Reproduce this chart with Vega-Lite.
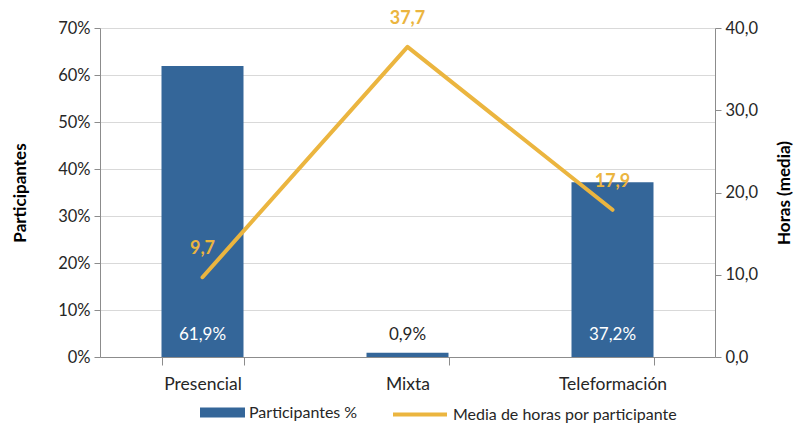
{
  "$schema": "https://vega.github.io/schema/vega-lite/v6.json",
  "autosize": "none",
  "width": 615,
  "height": 329,
  "padding": {"left": 100, "top": 28, "right": 85, "bottom": 66},
  "background": "white",
  "config": {
    "view": {"stroke": null},
    "font": "Lato",
    "axis": {"labelFont": "Lato", "titleFont": "Lato", "labelFontSize": 16.5, "titleFontSize": 17, "labelColor": "#262626", "titleColor": "#000000", "domainColor": "#8c8c8c", "tickColor": "#8c8c8c", "gridColor": "#d9d9d9", "tickSize": 6}
  },
  "data": {"values": [
    {"mod": "Presencial", "pct": 0.619, "pctLabel": "61,9%", "hours": 9.7, "hoursLabel": "9,7"},
    {"mod": "Mixta", "pct": 0.009, "pctLabel": "0,9%", "hours": 37.7, "hoursLabel": "37,7"},
    {"mod": "Teleformación", "pct": 0.372, "pctLabel": "37,2%", "hours": 17.9, "hoursLabel": "17,9"}
  ]},
  "encoding": {
    "x": {"field": "mod", "type": "nominal", "sort": null,
      "scale": {"paddingInner": 0.6, "paddingOuter": 0.3},
      "axis": {"title": null, "labelAngle": 0, "labelPadding": 10, "tickBand": "extent", "labelFontSize": 17.5, "tickSize": 8}}
  },
  "layer": [
    {
      "encoding": {
        "y": {"type": "quantitative", "scale": {"domain": [0, 0.7]},
          "axis": {"title": "Participantes", "titleFontWeight": "bold", "titlePadding": 28, "values": [0, 0.1, 0.2, 0.3, 0.4, 0.5, 0.6, 0.7], "labelExpr": "format(datum.value, '.0%')", "grid": true, "labelPadding": 4}}
      },
      "layer": [
        {"mark": {"type": "bar", "color": "#346699"},
         "encoding": {"y": {"field": "pct"},
           "fill": {"datum": "Participantes %", "type": "nominal", "scale": {"range": ["#346699"]},
             "legend": {"title": null, "orient": "none", "legendX": 100, "legendY": 362, "direction": "horizontal", "labelFontSize": 16, "labelFont": "Lato", "labelColor": "#262626", "labelLimit": 400, "symbolType": "M-1,-0.22H1V0.22H-1Z", "symbolSize": 2025, "symbolStrokeWidth": 0, "padding": 0, "labelOffset": 4}}}},
        {"mark": {"type": "text", "dy": -22, "fontSize": 17, "baseline": "middle"},
         "encoding": {"y": {"datum": 0}, "text": {"field": "pctLabel"},
           "color": {"condition": {"test": "datum.pct > 0.05", "value": "white"}, "value": "#262626"}}}
      ]
    },
    {
      "encoding": {
        "y": {"type": "quantitative", "scale": {"domain": [0, 40]},
          "axis": {"orient": "right", "title": "Horas (media)", "titleFontWeight": "bold", "titleAngle": 270, "titlePadding": 36, "values": [0, 10, 20, 30, 40], "labelExpr": "replace(format(datum.value, '.1f'), '.', ',')", "grid": false, "labelPadding": 4}}
      },
      "layer": [
        {"mark": {"type": "line", "strokeWidth": 4, "strokeCap": "round", "strokeJoin": "round"},
         "encoding": {"y": {"field": "hours"},
           "stroke": {"datum": "Media de horas por participante", "type": "nominal", "scale": {"range": ["#EBB53F"]},
             "legend": {"title": null, "orient": "none", "legendX": 291, "legendY": 357.5, "direction": "horizontal", "labelFontSize": 16, "labelFont": "Lato", "labelColor": "#262626", "labelLimit": 400, "symbolType": "stroke", "symbolSize": 2916, "symbolStrokeWidth": 4, "padding": 0, "labelOffset": 4}}}},
        {"mark": {"type": "text", "dy": -28, "fontSize": 18, "fontWeight": "bold", "baseline": "middle", "color": "#EBB53F"},
         "encoding": {"y": {"field": "hours"}, "text": {"field": "hoursLabel"}}}
      ]
    }
  ],
  "resolve": {"scale": {"y": "independent", "fill": "independent", "stroke": "independent"}}
}
